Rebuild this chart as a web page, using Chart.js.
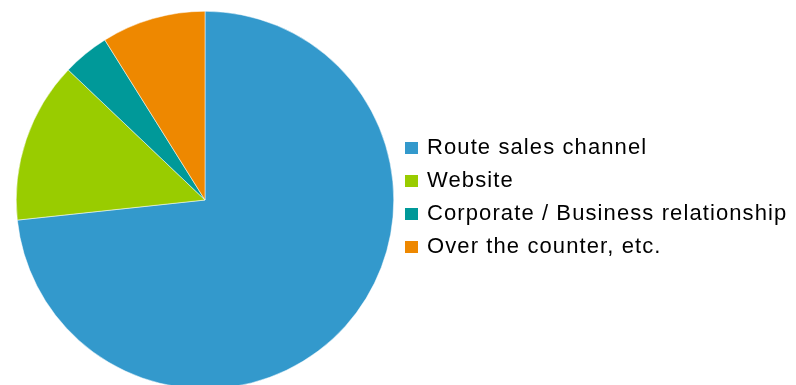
<!DOCTYPE html>
<html>
<head>
<meta charset="utf-8">
<script src="https://cdn.jsdelivr.net/npm/chart.js@4.4.1/dist/chart.umd.min.js"></script>
<style>
    html, body { margin: 0; padding: 0; background: #fff; overflow: hidden; }
    #wrap { width: 796px; height: 400px; }
</style>
</head>
<body>
<div id="wrap"><canvas id="channel-chart" width="796" height="400"></canvas></div>
<script>
// /------------ Share of sales by channel (%) ------------/
const channelLabels = ['Route sales channel', 'Website', 'Corporate / Business relationship', 'Over the counter, etc.'];
const channelShares = [73.3, 13.8, 4.0, 8.9];
const channelColors = ['#3399cc', '#99cc00', '#009999', '#ee8800'];

const channelCtx = document.querySelector('#channel-chart').getContext('2d');

// /------------ Loose letter spacing for the legend text ------------/
const spacedText = {
    id: 'spacedText',
    beforeLayout(chart) { chart.ctx.letterSpacing = '1.1px'; },
    afterLayout(chart) {
        const legend = chart.legend;
        // legend box is capped at half the width, let the long label run to the edge
        legend.right = chart.width;
        // nudge the legend a little right and up
        legend.left += 2;
        legend.top -= 2.5;
        legend.bottom -= 2.5;
    },
    beforeDraw(chart) { chart.ctx.letterSpacing = '1.1px'; }
};

// /============ Channel Pie Chart ============/
pie = new Chart(channelCtx, {
    type: 'pie',
    data: {
        labels: channelLabels,
        datasets: [{
            data: channelShares,
            backgroundColor: channelColors,
            borderColor: '#ffffff',
            borderWidth: 0.5
        }]
    },
    options: {
        responsive: false,
        animation: false,
        layout: {
            padding: {
                left: 16,
                right: 24,
                top: 10,
                bottom: 10
            }
        },
        plugins: {
            tooltip: { enabled: false },
            legend: {
                display: true,
                position: 'right',
                labels: {
                    // small box + thick stroke of the same colour keeps the text close to the swatch
                    boxWidth: 9,
                    boxHeight: 8,
                    padding: 11,
                    color: '#000000',
                    font: {
                        family: "'Liberation Sans', Arial, sans-serif",
                        size: 22
                    },
                    generateLabels(chart) {
                        return chart.data.labels.map((text, i) => ({
                            text: text,
                            fillStyle: channelColors[i],
                            strokeStyle: channelColors[i],
                            lineWidth: 4,
                            hidden: false,
                            index: i
                        }));
                    }
                }
            }
        }
    },
    plugins: [spacedText]
});
</script>
</body>
</html>
